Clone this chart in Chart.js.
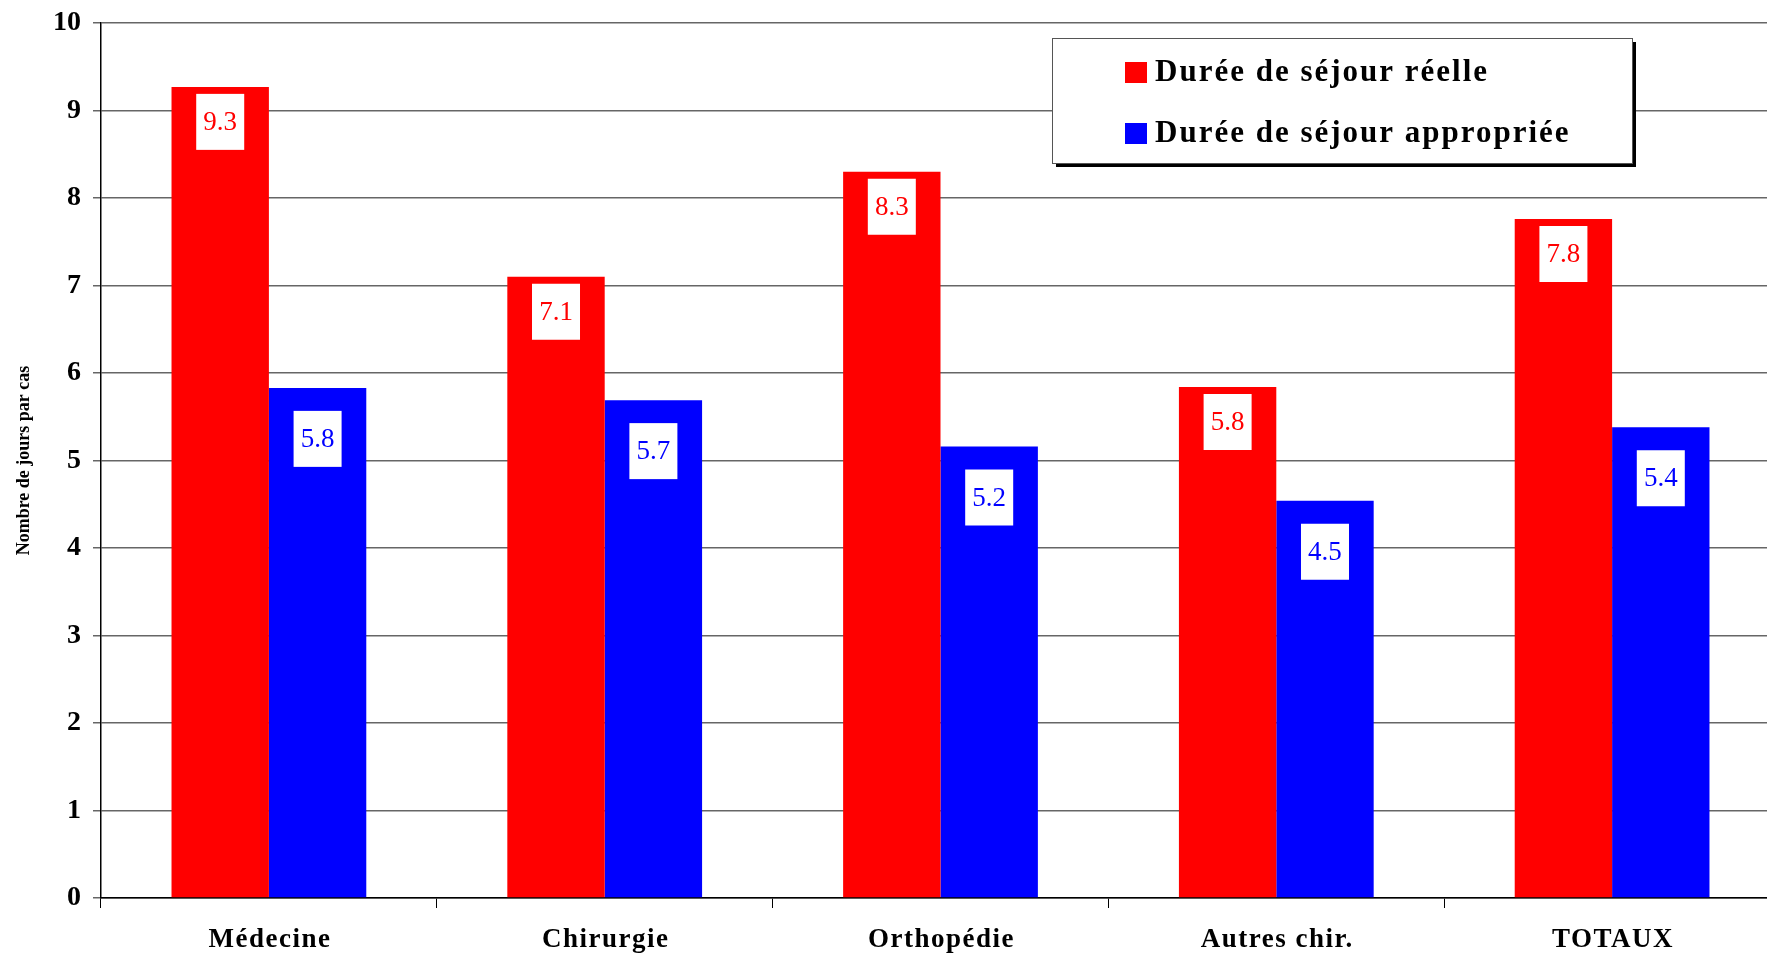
<!DOCTYPE html>
<html lang="fr">
<head>
  <meta charset="UTF-8" />
  <title>Durée de séjour</title>
  <script src="https://cdn.jsdelivr.net/npm/chart.js"></script>
  <style>
    html, body { margin: 0; padding: 0; background: #fff; overflow: hidden; }
    .wrap { width: 1780px; height: 955px; position: relative; }
  </style>
</head>
<body>
  <div class="wrap"><canvas id="graphe"></canvas></div>

  <script>
    const categories = ['Médecine', 'Chirurgie', 'Orthopédie', 'Autres chir.', 'TOTAUX'];
    const dureeReelle = [9.27, 7.10, 8.30, 5.84, 7.76];
    const dureeAppropriee = [5.83, 5.69, 5.16, 4.54, 5.38];
    const yTicks = [0, 1, 2, 3, 4, 5, 6, 7, 8, 9, 10];

    const serif = "'Liberation Serif', 'Times New Roman', serif";

    // étiquettes blanches dans le haut des barres
    const etiquettes = {
      id: 'etiquettes',
      afterDatasetsDraw(chart) {
        const ctx = chart.ctx;
        chart.data.datasets.forEach((ds, i) => {
          const decal = i === 0 ? 35 : 51;
          chart.getDatasetMeta(i).data.forEach((bar, j) => {
            const cy = bar.y + decal;
            ctx.save();
            ctx.fillStyle = '#fff';
            ctx.fillRect(bar.x - 24, cy - 28, 48, 56);
            ctx.fillStyle = ds.backgroundColor;
            ctx.font = '27px ' + serif;
            ctx.textAlign = 'center';
            ctx.textBaseline = 'middle';
            ctx.fillText(ds.data[j].toFixed(1), bar.x, cy + 1);
            ctx.restore();
          });
        });
      }
    };

    // libellés des catégories, un peu espacés
    const libelles = {
      id: 'libelles',
      afterDraw(chart) {
        const ctx = chart.ctx;
        const xs = chart.scales.x;
        ctx.save();
        ctx.font = 'bold 27px ' + serif;
        ctx.letterSpacing = '1.5px';
        ctx.fillStyle = '#000';
        ctx.textAlign = 'center';
        ctx.textBaseline = 'middle';
        chart.data.labels.forEach((lab, i) => {
          ctx.fillText(lab, xs.getPixelForValue(i) + 1, 940);
        });
        ctx.restore();
      }
    };

    // légende encadrée avec ombre
    const legende = {
      id: 'legende',
      afterDraw(chart) {
        const ctx = chart.ctx;
        const x = 1052, y = 38, w = 580, h = 125;
        ctx.save();
        ctx.fillStyle = '#000';
        ctx.fillRect(x + 4, y + 4, w, h);
        ctx.fillStyle = '#fff';
        ctx.fillRect(x, y, w, h);
        ctx.strokeStyle = '#555';
        ctx.lineWidth = 1;
        ctx.strokeRect(x + 0.5, y + 0.5, w, h);
        ctx.font = 'bold 31px ' + serif;
        ctx.letterSpacing = '2px';
        ctx.textBaseline = 'middle';
        chart.data.datasets.forEach((ds, i) => {
          const ly = 72 + i * 61;
          ctx.fillStyle = ds.backgroundColor;
          ctx.fillRect(1125, ly - 10, 22, 21);
          ctx.fillStyle = '#000';
          ctx.fillText(ds.label, 1155, ly + 1);
        });
        ctx.restore();
      }
    };

    new Chart(document.getElementById('graphe'), {
      type: 'bar',
      data: {
        labels: categories,
        datasets: [
          { label: 'Durée de séjour réelle', data: dureeReelle, backgroundColor: '#ff0000' },
          { label: 'Durée de séjour appropriée', data: dureeAppropriee, backgroundColor: '#0000ff' }
        ]
      },
      options: {
        responsive: true,
        maintainAspectRatio: false,
        animation: false,
        layout: { padding: { top: 23, right: 0, left: 0, bottom: 0 } },
        datasets: { bar: { categoryPercentage: 0.58, barPercentage: 1.0 } },
        plugins: { legend: { display: false }, tooltip: { enabled: false } },
        scales: {
          x: {
            grid: { display: true, drawOnChartArea: false, color: '#000', tickLength: 10 },
            border: { color: '#000', width: 1.5 },
            ticks: { color: 'transparent', font: { family: serif, size: 27, weight: 'bold' }, padding: 14 },
            afterFit(s) { s.height = 57; s.paddingLeft = 0; s.paddingRight = 0; }
          },
          y: {
            min: 0, max: 10,
            afterBuildTicks(s) { s.ticks = yTicks.map(v => ({ value: v })); },
            grid: { color: '#666', lineWidth: 1.5, tickLength: 8 },
            border: { color: '#000', width: 1.5 },
            ticks: { color: '#000', font: { family: serif, size: 28, weight: 'bold' }, padding: 12 },
            title: {
              display: true, text: 'Nombre de jours par cas', color: '#000',
              font: { family: serif, size: 18, weight: 'bold' }, padding: { top: 14, bottom: 0 }
            },
            afterFit(s) { s.width = 101; s.paddingTop = 0; s.paddingBottom = 0; }
          }
        }
      },
      plugins: [etiquettes, libelles, legende]
    });
  </script>
</body>
</html>
